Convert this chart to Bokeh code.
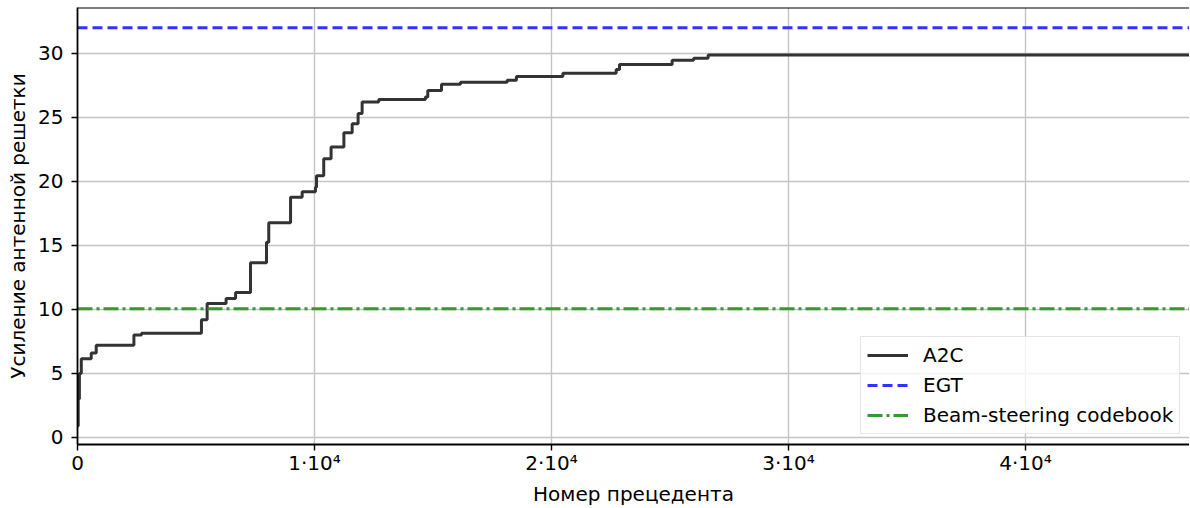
from bokeh.plotting import figure
from bokeh.models import Range1d, FixedTicker, CustomJSTickFormatter, Span
from bokeh.embed import file_html
from bokeh.resources import INLINE

# ---- data ----
a2c_x = [0, 30, 80, 160, 580, 790, 2380, 2700, 5230, 5470, 6270, 6670, 7300,
         7975, 8070, 8990, 9480, 10040, 10085, 10390, 10700, 11240, 11590,
         11840, 12010, 12710, 14680, 14780, 15360, 16160, 18130, 18520, 20480,
         22730, 22870, 25090, 26000, 26610, 47000]
a2c_y = [0.9, 3.0, 5.0, 6.15, 6.6, 7.2, 8.0, 8.15, 9.2, 10.47, 10.86, 11.33,
         13.65, 15.25, 16.78, 18.77, 19.2, 19.55, 20.44, 21.77, 22.7, 23.8,
         24.5, 25.3, 26.2, 26.4, 26.6, 27.1, 27.6, 27.75, 27.9, 28.2, 28.45,
         28.75, 29.13, 29.47, 29.63, 29.87, 29.87]
egt_x = [0, 47000]
egt_y = [32.0, 32.0]
beam_x = [0, 47000]
beam_y = [10.05, 10.05]
x_ticks = [0, 10000, 20000, 30000, 40000]
y_ticks = [0, 5, 10, 15, 20, 25, 30]
x_label = "Номер прецедента"
y_label = "Усиление антенной решетки"
labels = ["A2C", "EGT", "Beam-steering codebook"]

FONT = "DejaVu Sans"
Y0, Y1 = -0.55, 33.59

p = figure(width=1189, height=508, output_backend="svg", toolbar_location=None,
           x_range=Range1d(0, 46920), y_range=Range1d(Y0, Y1),
           min_border_left=77, min_border_right=0, min_border_top=7,
           min_border_bottom=64)
p.outline_line_color = None
p.background_fill_color = "white"
p.border_fill_color = "white"

p.step(a2c_x, a2c_y, mode="after", line_color="#333333", line_width=3,
       legend_label=labels[0])
p.line(egt_x, egt_y, line_color="#3333ff", line_width=3, line_dash="10 5",
       legend_label=labels[1])
p.line(beam_x, beam_y, line_color="#339933", line_width=3,
       line_dash="15 4 3 4", legend_label=labels[2])

# top spine
p.add_layout(Span(location=Y1, dimension="width", line_color="black",
                  line_width=1.8, level="overlay"))

for ax in (p.xaxis[0], p.yaxis[0]):
    ax.axis_line_color = "black"
    ax.axis_line_width = 1.8
    ax.major_tick_line_color = "black"
    ax.major_tick_line_width = 1.4
    ax.major_tick_out = 6
    ax.major_tick_in = 0
    ax.minor_tick_line_color = None
    ax.major_label_text_font = FONT
    ax.major_label_text_font_size = "20px"
    ax.major_label_text_color = "black"
    ax.axis_label_text_font = FONT
    ax.axis_label_text_font_size = "20px"
    ax.axis_label_text_font_style = "normal"
    ax.axis_label_text_color = "black"

p.xaxis.major_label_standoff = 0
p.yaxis.major_label_standoff = 8
p.xaxis.ticker = FixedTicker(ticks=x_ticks)
p.yaxis.ticker = FixedTicker(ticks=y_ticks)
p.xaxis.formatter = CustomJSTickFormatter(code="""
    if (tick == 0) { return '0'; }
    return (tick / 1e4).toFixed(0) + '\u00b710\u2074';
""")
p.xaxis.axis_label = x_label
p.yaxis.axis_label = y_label
p.xaxis.axis_label_standoff = 4
p.yaxis.axis_label_standoff = 5

p.xgrid.ticker = FixedTicker(ticks=x_ticks)
p.ygrid.ticker = FixedTicker(ticks=y_ticks)
for g in (p.xgrid[0], p.ygrid[0]):
    g.grid_line_color = "#c4c4c4"
    g.grid_line_width = 1.4

lg = p.legend[0]
lg.location = (783, 10)
lg.margin = 0
lg.padding = 6
lg.spacing = 6
lg.glyph_width = 41
lg.glyph_height = 22
lg.label_height = 22
lg.label_standoff = 15
lg.label_text_font = FONT
lg.label_text_font_size = "20px"
lg.label_text_color = "black"
lg.border_line_color = "#cccccc"
lg.border_line_width = 1.2
lg.background_fill_color = "white"
lg.background_fill_alpha = 0.8

open("out.html", "w").write(file_html(p, INLINE))
